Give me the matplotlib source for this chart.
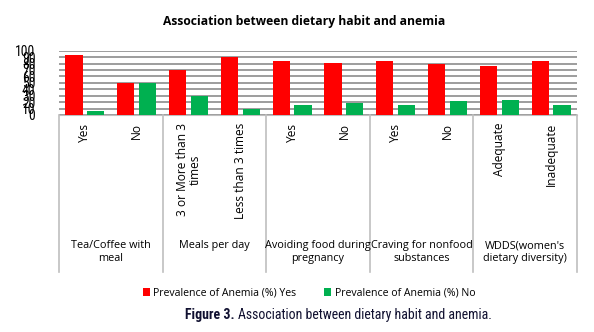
import matplotlib
matplotlib.use("Agg")
import matplotlib.pyplot as plt
import matplotlib.transforms as mtransforms
from matplotlib import font_manager
import numpy as np

groups = ["Tea/Coffee with\nmeal", "Meals per day", "Avoiding food during\npregnancy",
          "Craving for nonfood\nsubstances", "WDDS(women's\ndietary diversity)"]
subcats = ["Yes", "No", "3 or More than 3\ntimes", "Less than 3 times", "Yes", "No",
           "Yes", "No", "Adequate", "Inadequate"]
anemia_yes = [94, 50, 70, 90, 84, 81, 84, 79, 76, 84]
anemia_no = [6, 50, 30, 10, 16, 19, 16, 21, 24, 16]
series_names = ["Prevalence of Anemia (%) Yes", "Prevalence of Anemia (%) No"]
yticks = list(range(0, 101, 10))

plt.rcParams['font.family'] = ['Open Sans', 'DejaVu Sans']

names = {f.name for f in font_manager.fontManager.ttflist}
narrow = None
for cand in ["Roboto Condensed", "Liberation Sans Narrow"]:
    if cand in names:
        narrow = cand
        break

W, H = 594, 332
fig = plt.figure(figsize=(W / 100, H / 100), dpi=100)
ax = fig.add_axes([59 / W, 1 - 115 / H, (577 - 59) / W, (115 - 50.7) / H])

x = np.arange(len(subcats))
bw = 0.33
off = 0.21
ax.bar(x - off, anemia_yes, bw, color="#ff0000", zorder=3, label=series_names[0])
ax.bar(x + off, anemia_no, bw, color="#00b050", zorder=3, label=series_names[1])

ax.set_xlim(-0.5, len(subcats) - 0.5)
ax.set_ylim(0, 100)
ax.set_yticks(yticks)
ax.set_yticklabels([str(v) for v in yticks], fontsize=9.8,
                   family=[narrow or 'DejaVu Sans', 'DejaVu Sans'])
ax.tick_params(axis='y', length=0, pad=17)
ax.set_xticks([])
ax.grid(axis='y', color="#8c8c8c", linewidth=1.2, zorder=0)
for s in ["top", "right", "left"]:
    ax.spines[s].set_visible(False)
ax.spines["bottom"].set_color("#bfbfbf")

trans = mtransforms.blended_transform_factory(ax.transData, ax.transAxes)
bottom_y = -(272 - 115) / (115 - 50.7)
for b in [-0.5, 1.5, 3.5, 5.5, 7.5, 9.5]:
    ax.plot([b, b], [0, bottom_y], transform=trans, color="#bfbfbf", lw=1.2, clip_on=False)

px = 1 / (115 - 50.7)
for i, s in enumerate(subcats):
    ax.text(i, -(123 - 115) * px, s, transform=trans, rotation=90, ha="center", va="top",
            fontsize=8.6, color="#000000", multialignment="center", linespacing=1.0)

for g, name in enumerate(groups):
    ax.text(2 * g + 0.5, -(240 - 115) * px, name, transform=trans, ha="center", va="top",
            fontsize=7.8, color="#000000", linespacing=1.3)

fig.text(304 / W, 1 - 21 / H, "Association between dietary habit and anemia", ha="center",
         va="center", fontsize=8.7, fontweight="bold")

leg = fig.legend(loc="center", bbox_to_anchor=(309 / W, 1 - 293 / H), ncol=2, frameon=False,
                 fontsize=7.6, handlelength=0.7, handleheight=0.7, handletextpad=0.3,
                 columnspacing=2.6)

cap_family = [narrow, "Roboto", "DejaVu Sans"] if narrow else ["Roboto", "DejaVu Sans"]
cap_size = 10 if narrow else 9
fig.canvas.draw()
r = fig.canvas.get_renderer()
t1 = fig.text(185 / W, 1 - 315 / H, "Figure 3.", ha="left", va="center", fontsize=cap_size,
              fontweight="bold", family=cap_family, color="#101030")
bb = t1.get_window_extent(r)
t2 = fig.text((bb.x1 + 3) / W, 1 - 315 / H, "Association between dietary habit and anemia.",
              ha="left", va="center", fontsize=cap_size, family=cap_family, color="#101030")

fig.savefig("out.png", dpi=100)
